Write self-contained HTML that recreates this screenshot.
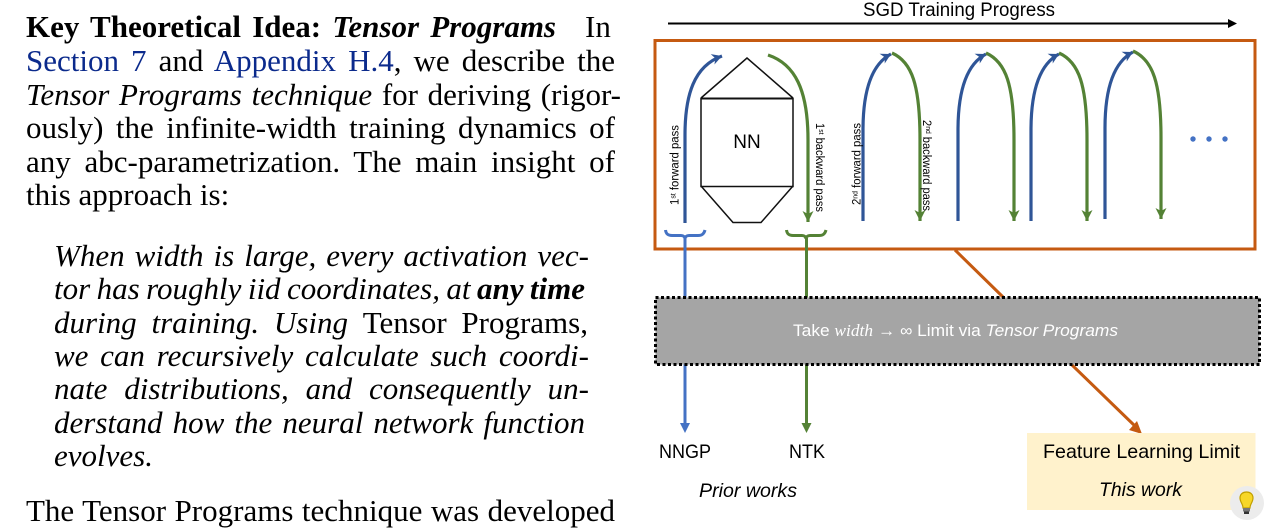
<!DOCTYPE html>
<html><head><meta charset="utf-8">
<style>
html,body{margin:0;padding:0;background:#fff;width:1278px;height:528px;overflow:hidden}
svg{display:block;position:absolute;left:0;top:0}
.t{position:absolute;font-family:"Liberation Serif",serif;font-size:31px;line-height:33px;height:33px;color:#000;word-spacing:-2px}
.j{text-align:justify;text-align-last:justify}
.n{word-spacing:0}
.t i,.q{font-style:italic}
a{color:#0b2a8c;text-decoration:none}
.l{left:26px;width:589px}
.q{left:54px;width:535px}
.d{font-family:"Liberation Sans",sans-serif;fill:#000}
</style></head><body>
<div class="t j" style="left:26px;width:530px;top:10px"><b>Key Theoretical Idea:</b> <b><i>Tensor Programs</i></b></div>
<div class="t n" style="left:585px;top:10px">In</div>
<div class="t j l" style="top:44px"><a>Section 7</a> and <a>Appendix H.4</a>, we describe the</div>
<div class="t j" style="left:26px;width:595px;top:78px"><i>Tensor Programs technique</i> for deriving (rigor-</div>
<div class="t j l" style="top:111px">ously) the infinite-width training dynamics of</div>
<div class="t j l" style="top:145px">any abc-parametrization. The main insight of</div>
<div class="t n l" style="top:178px">this approach is:</div>
<div class="t j q" style="top:239px">When width is large, every activation vec-</div>
<div class="t j q" style="top:272px;width:531px">tor has roughly iid coordinates, at <b>any time</b></div>
<div class="t j q" style="top:306px;width:534px">during training. Using <span style="font-style:normal">Tensor Programs,</span></div>
<div class="t j q" style="top:339px">we can recursively calculate such coordi-</div>
<div class="t j q" style="top:372px">nate distributions, and consequently un-</div>
<div class="t j q" style="top:406px;width:531px">derstand how the neural network function</div>
<div class="t n q" style="top:439px">evolves.</div>
<div class="t j l" style="top:494px">The Tensor Programs technique was developed</div>
<svg width="1278" height="528" viewBox="0 0 1278 528" xmlns="http://www.w3.org/2000/svg">
<defs>
<marker id="mb" markerUnits="userSpaceOnUse" markerWidth="14" markerHeight="14" refX="11" refY="7" orient="auto"><path d="M1 1.500L11 7L1 12.500L4 7Z" fill="#2f5597"/></marker>
<marker id="mg" markerUnits="userSpaceOnUse" markerWidth="14" markerHeight="14" refX="11" refY="7" orient="auto"><path d="M0 1.500L11 7L0 12.500L3 7Z" fill="#548235"/></marker>
</defs>
<text class="d" x="863" y="16" font-size="19" textLength="192" lengthAdjust="spacingAndGlyphs">SGD Training Progress</text>
<line x1="668" y1="23.500" x2="1229" y2="23.500" stroke="#000" stroke-width="2"/>
<path d="M1228 19L1237 23.500L1228 28Z" fill="#000"/>
<line x1="955" y1="250" x2="1003" y2="297" stroke="#c55a11" stroke-width="3"/>
<line x1="1072" y1="365" x2="1136" y2="427" stroke="#c55a11" stroke-width="3"/>
<path d="M1142 434L1129 430L1137 421Z" fill="#c55a11"/>
<rect x="655" y="40.500" width="600" height="208.500" fill="none" stroke="#c55a11" stroke-width="3"/>
<path d="M701 98L747 58L793 98M701 186L733 222.500H761L793 186" fill="none" stroke="#111" stroke-width="1.500"/>
<rect x="701" y="98.500" width="92" height="88" fill="none" stroke="#111" stroke-width="1.500"/>
<line x1="701" y1="98.500" x2="793" y2="98.500" stroke="#111" stroke-width="2"/>
<text class="d" x="747" y="148" font-size="19" text-anchor="middle">NN</text>
<g fill="none" stroke-width="3.200">
<path d="M685 223L685 135C685 95 694 66 722 56" stroke="#2f5597" marker-end="url(#mb)"/>
<path d="M768 55C795 64 808 90 808 140L808 222" stroke="#548235" marker-end="url(#mg)"/>
<path d="M863 221L863 130C863 90 872 64 891 54" stroke="#2f5597" marker-end="url(#mb)"/>
<path d="M892 53C912 62 920 85 920 140L920 221" stroke="#548235" marker-end="url(#mg)"/>
<path d="M958 221L958 130C958 90 967 64 986 54" stroke="#2f5597" marker-end="url(#mb)"/>
<path d="M986 53C1006 62 1014 85 1014 140L1014 221" stroke="#548235" marker-end="url(#mg)"/>
<path d="M1031 221L1031 130C1031 90 1040 64 1059 54" stroke="#2f5597" marker-end="url(#mb)"/>
<path d="M1059 53C1079 62 1087 85 1087 140L1087 221" stroke="#548235" marker-end="url(#mg)"/>
<path d="M1105 219L1105 128C1105 88 1114 62 1133 52" stroke="#2f5597" marker-end="url(#mb)"/>
<path d="M1133 51C1153 60 1161 83 1161 138L1161 219" stroke="#548235" marker-end="url(#mg)"/>
</g>
<g fill="#4472c4"><circle cx="1193" cy="139" r="2.700"/><circle cx="1209" cy="139" r="2.700"/><circle cx="1225" cy="139" r="2.700"/></g>
<g class="d" font-size="11.500">
<text transform="translate(678.500,205) rotate(-90)" textLength="80" lengthAdjust="spacingAndGlyphs">1<tspan font-size="7" dy="-3">st</tspan><tspan dy="3"> forward pass</tspan></text>
<text transform="translate(816,123) rotate(90)" textLength="89" lengthAdjust="spacingAndGlyphs">1<tspan font-size="7" dy="-3">st</tspan><tspan dy="3"> backward pass</tspan></text>
<text transform="translate(860.500,205) rotate(-90)" textLength="82" lengthAdjust="spacingAndGlyphs">2<tspan font-size="7" dy="-3">nd</tspan><tspan dy="3"> forward pass</tspan></text>
<text transform="translate(923,120) rotate(90)" textLength="91" lengthAdjust="spacingAndGlyphs">2<tspan font-size="7" dy="-3">nd</tspan><tspan dy="3"> backward pass</tspan></text>
</g>
<g fill="none" stroke-width="3">
<path d="M665.500 230C666 234 668 235.500 672 235.500H681C683.500 235.500 685 237 685 239C685 237 686.500 235.500 689 235.500H698C702 235.500 704 234 705 230" stroke="#4472c4"/>
<path d="M786.500 230C787 234 789 235.500 793 235.500H802C804.500 235.500 806 237 806 239C806 237 807.500 235.500 810 235.500H819C823 235.500 825 234 826 230" stroke="#548235"/>
<line x1="685" y1="238" x2="685" y2="298" stroke="#4472c4"/>
<line x1="806.500" y1="238" x2="806.500" y2="298" stroke="#548235"/>
<line x1="685" y1="364" x2="685" y2="424" stroke="#4472c4"/>
<line x1="806.500" y1="364" x2="806.500" y2="424" stroke="#548235"/>
</g>
<path d="M680 423H690L685 433Z" fill="#4472c4"/>
<path d="M801.500 423H811.500L806.500 433Z" fill="#548235"/>
<rect x="655.500" y="297.500" width="604" height="67" fill="#a5a5a5" stroke="#000" stroke-width="3" stroke-dasharray="3 2.500"/>
<text class="d" x="793" y="336" font-size="16.500" style="fill:#fff" textLength="325" lengthAdjust="spacingAndGlyphs">Take <tspan font-style="italic" font-family="Liberation Serif">width</tspan> → ∞ Limit via <tspan font-style="italic">Tensor Programs</tspan></text>
<text class="d" x="659" y="458" font-size="19" textLength="52" lengthAdjust="spacingAndGlyphs">NNGP</text>
<text class="d" x="789" y="458" font-size="19" textLength="36" lengthAdjust="spacingAndGlyphs">NTK</text>
<text class="d" x="699" y="497" font-size="19" font-style="italic" textLength="98" lengthAdjust="spacingAndGlyphs">Prior works</text>
<rect x="1027" y="433" width="228.500" height="77" fill="#fff2cc"/>
<text class="d" x="1043" y="458" font-size="19.500" textLength="197" lengthAdjust="spacingAndGlyphs">Feature Learning Limit</text>
<text class="d" x="1099" y="496" font-size="19.500" font-style="italic" textLength="83" lengthAdjust="spacingAndGlyphs">This work</text>
<circle cx="1247" cy="503" r="17" fill="#ececec"/>
<path d="M1243 508C1243 504 1240 502 1240 498C1240 494 1243 492 1246.500 492C1250 492 1253 494 1253 498C1253 502 1250 504 1250 508Z" fill="#f7d728" stroke="#c2a000" stroke-width="1.200"/>
<rect x="1243" y="508" width="7" height="3.500" fill="#777"/>
<rect x="1244" y="511.500" width="5" height="2.500" fill="#333"/>
</svg>
</body></html>
